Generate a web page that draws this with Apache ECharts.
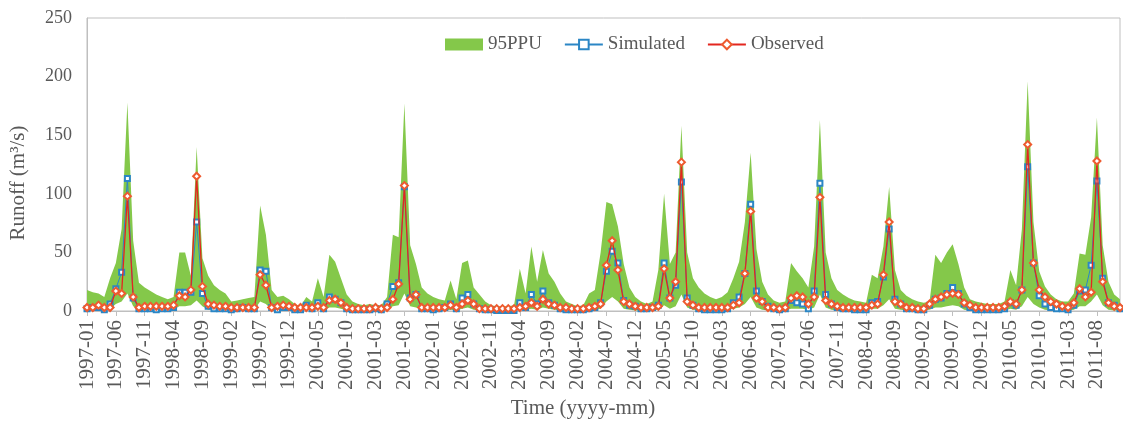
<!DOCTYPE html>
<html>
<head>
<meta charset="utf-8">
<script src="https://cdn.jsdelivr.net/npm/echarts@6/dist/echarts.min.js"></script>
<style>
html,body{margin:0;padding:0;background:#fff;}
#chart{width:1123px;height:421px;}
</style>
</head>
<body>
<div id="chart"></div>
<script>
// Monthly data 1997-01 .. 2011-12 (one row per year)
const simulated = [
  2, 3, 3, 1, 6, 19, 33, 113, 11, 2, 2, 2,
  1, 2, 2, 3, 16, 16, 16, 76, 15, 4, 2, 2,
  2, 1, 2, 3, 2, 2, 35, 34, 3, 1, 3, 3,
  1, 1, 5, 2, 7, 2, 12, 10, 7, 2, 1, 1,
  1, 1, 2, 1, 6, 21, 24, 106, 11, 14, 2, 2,
  1, 2, 3, 6, 2, 11, 14, 6, 2, 1, 1, 0.5,
  0.5, 0.5, 0.5, 7, 3, 14, 6, 17, 7, 5, 2, 1,
  1, 1, 1, 2, 3, 7, 34, 51, 41, 9, 5, 4,
  2, 2, 3, 5, 41, 11, 22, 110, 11, 5, 2, 1,
  1, 1, 1, 2, 7, 12, 32, 91, 17, 8, 4, 2,
  1, 2, 9, 7, 6, 2, 17, 109, 14, 6, 3, 2,
  2, 1, 1, 1, 7, 8, 29, 70, 10, 6, 2, 2,
  1, 1, 5, 10, 11, 15, 20, 15, 6, 3, 1, 1,
  1, 1, 1, 2, 7, 5, 18, 123, 41, 13, 6, 3,
  2, 2, 1, 5, 17, 18, 39, 111, 28, 7, 5, 2
];
const observed = [
  3, 3, 5, 3, 3, 17, 15, 98, 12, 3, 4, 4,
  4, 4, 4, 5, 13, 12, 18, 115, 21, 6, 5, 4,
  4, 3, 3, 3, 3, 3, 31, 22, 3, 4, 5, 4,
  3, 3, 3, 3, 4, 3, 9, 10, 7, 3, 2, 2,
  2, 2, 3, 2, 3, 10, 23, 107, 10, 14, 3, 3,
  3, 3, 3, 5, 3, 6, 9, 6, 2, 2, 2, 2,
  2, 2, 2, 3, 4, 7, 4, 10, 6, 5, 3, 3,
  2, 2, 2, 3, 4, 6, 39, 60, 35, 8, 6, 4,
  3, 3, 3, 4, 36, 11, 25, 127, 8, 5, 3, 3,
  3, 3, 3, 3, 5, 7, 32, 85, 11, 8, 3, 3,
  2, 3, 11, 13, 12, 6, 12, 97, 9, 6, 4, 3,
  3, 3, 3, 3, 5, 6, 31, 76, 8, 6, 3, 3,
  2, 2, 6, 10, 12, 14, 15, 14, 7, 5, 3, 3,
  3, 3, 3, 4, 8, 6, 18, 142, 41, 18, 12, 8,
  6, 4, 3, 7, 19, 12, 16, 128, 25, 7, 4, 3
];
const ppuUpper = [
  18, 16, 15, 12, 28, 41, 70, 178, 60, 24, 20, 17,
  14, 12, 10, 12, 50, 50, 30, 140, 45, 30, 22, 18,
  15, 8, 9, 10, 11, 12, 90, 65, 18, 12, 13, 10,
  6, 4, 12, 8, 28, 12, 48, 42, 28, 14, 8, 6,
  5, 6, 5, 5, 12, 65, 63, 177, 56, 40, 20, 15,
  12, 10, 9, 26, 10, 41, 43, 20, 14, 8, 5, 4,
  4, 4, 5, 36, 15, 55, 25, 52, 32, 25, 15, 8,
  6, 4, 5, 15, 18, 50, 93, 91, 72, 40, 20, 12,
  8, 6, 8, 35, 100, 40, 50, 158, 50, 28, 20, 15,
  12, 10, 12, 16, 28, 42, 76, 135, 53, 25, 14, 9,
  7, 8, 41, 34, 28, 20, 55, 163, 50, 28, 18, 14,
  11, 9, 8, 7, 31, 28, 55, 106, 35, 18, 13, 10,
  8, 7, 8, 48, 41, 50, 57, 40, 20, 10, 8, 7,
  6, 6, 6, 8, 35, 22, 70, 196, 76, 34, 21, 14,
  10, 8, 8, 15, 49, 48, 80, 165, 56, 25, 14, 10
];
const ppuLower = [
  1, 1, 1, 0.5, 2, 6, 8, 15, 4, 1, 1, 0.5,
  0.5, 0.5, 0.5, 1, 4, 4, 5, 9, 4, 1, 1, 1,
  1, 0.5, 0.5, 1, 1, 1, 8, 6, 1, 0.5, 0.5, 0.5,
  0.5, 0.5, 1, 0.5, 2, 0.5, 3, 3, 2, 0.5, 0.5, 0.5,
  0.5, 0.5, 0.5, 0.5, 1, 4, 5, 15, 4, 3, 1, 1,
  0.5, 0.5, 0.5, 1, 0.5, 2, 3, 1, 0.5, 0.5, 0.3, 0.3,
  0.3, 0.3, 0.3, 1, 1, 2, 1, 3, 2, 1, 0.5, 0.3,
  0.3, 0.3, 0.3, 0.5, 1, 2, 8, 12, 8, 2, 1, 0.5,
  0.5, 0.5, 0.5, 1, 5, 2, 4, 14, 3, 1, 0.5, 0.5,
  0.5, 0.5, 0.5, 1, 2, 3, 6, 12, 3, 1, 0.5, 0.5,
  0.5, 0.5, 2, 2, 2, 1, 3, 14, 3, 1, 0.5, 0.5,
  0.5, 0.5, 0.5, 0.5, 2, 2, 5, 10, 2, 1, 0.5, 0.5,
  0.5, 0.5, 1, 3, 3, 4, 5, 4, 1, 0.5, 0.3, 0.3,
  0.3, 0.3, 0.3, 0.5, 2, 1, 4, 12, 6, 3, 1, 0.5,
  0.5, 0.5, 0.5, 1, 4, 4, 8, 14, 5, 1, 0.5, 0.5
];
const startYear = 1997, endYear = 2011;
const yTicks = { min: 0, max: 250, interval: 50 };
const seriesNames = ['95PPU', 'Simulated', 'Observed'];
const axisTitles = { x: 'Time (yyyy-mm)', y: 'Runoff (m³/s)' };

const months = [];
for (let y = startYear; y <= endYear; y++) {
  for (let m = 1; m <= 12; m++) months.push(y + '-' + (m < 10 ? '0' + m : '' + m));
}
const bandWidth = ppuUpper.map((u, i) => +(u - ppuLower[i]).toFixed(2));

const FONT = '"Liberation Serif", "Times New Roman", serif';
const TXT = '#595959';
const AX = '#bfbfbf';

const chart = echarts.init(document.getElementById('chart'), null, { renderer: 'canvas' });
chart.setOption({
  animation: false,
  backgroundColor: '#fff',
  grid: { left: 87, right: 3, top: 18, bottom: 110, show: true, borderColor: AX, borderWidth: 1 },
  legend: {
    left: 440, top: 30, itemWidth: 38, itemHeight: 12, itemGap: 22,
    textStyle: { fontFamily: FONT, fontSize: 19, color: TXT },
    data: [
      { name: seriesNames[0], icon: 'rect' },
      { name: seriesNames[1] },
      { name: seriesNames[2] }
    ]
  },
  xAxis: {
    type: 'category', data: months, boundaryGap: false,
    axisLine: { lineStyle: { color: AX, width: 1 } },
    axisTick: { show: true, interval: 4, length: 5, lineStyle: { color: AX } },
    axisLabel: { interval: 4, rotate: 90, margin: 9, fontFamily: FONT, fontSize: 21, color: TXT },
    splitLine: { show: false }
  },
  yAxis: {
    type: 'value', min: yTicks.min, max: yTicks.max, interval: yTicks.interval,
    axisLine: { show: true, lineStyle: { color: AX } },
    axisTick: { show: false },
    axisLabel: { margin: 15, fontFamily: FONT, fontSize: 18, color: TXT },
    splitLine: { show: false }
  },
  graphic: [
    { type: 'text', x: 583, y: 408, style: { text: axisTitles.x, font: '21px ' + FONT, fill: TXT, align: 'center', verticalAlign: 'middle' } },
    { type: 'text', x: 18, y: 183, rotation: Math.PI / 2, style: { text: axisTitles.y, font: '21px ' + FONT, fill: TXT, align: 'center', verticalAlign: 'middle' } }
  ],
  series: [
    { name: 'lower', type: 'line', stack: 'ppu', data: ppuLower, symbol: 'none',
      lineStyle: { width: 0, opacity: 0 }, areaStyle: { opacity: 0 }, silent: true, z: 1 },
    { name: seriesNames[0], type: 'line', stack: 'ppu', data: bandWidth, symbol: 'none',
      lineStyle: { width: 0, opacity: 0 }, itemStyle: { color: '#84c84a' },
      areaStyle: { color: '#84c84a', opacity: 1 }, z: 2 },
    { name: seriesNames[1], type: 'line', data: simulated, symbol: 'emptyRect', symbolSize: 5,
      showAllSymbol: true,
      lineStyle: { color: '#2b86c5', width: 1 }, itemStyle: { color: '#2b86c5', borderWidth: 1 }, z: 3 },
    { name: seriesNames[2], type: 'line', data: observed, symbol: 'emptyDiamond', symbolSize: 7,
      showAllSymbol: true,
      lineStyle: { color: '#e3261f', width: 1.3 }, itemStyle: { color: '#ee5a2f', borderWidth: 1 }, z: 4 }
  ]
});
</script>
</body>
</html>
